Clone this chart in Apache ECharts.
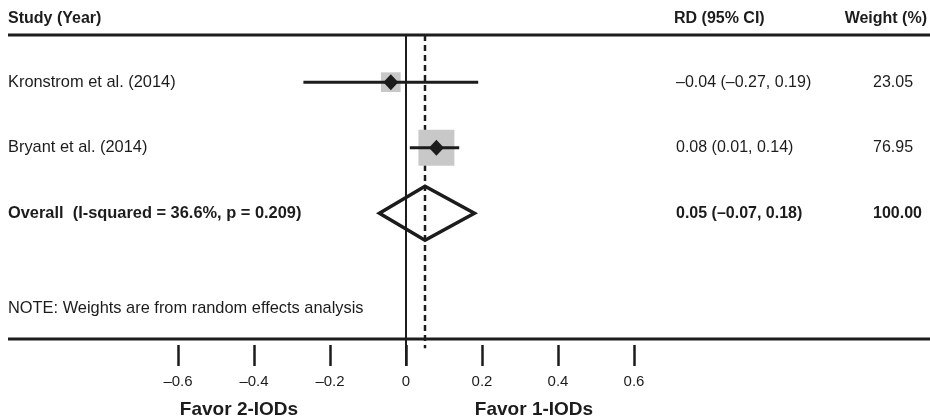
<!DOCTYPE html>
<html>
<head>
<meta charset="utf-8">
<script src="https://cdn.jsdelivr.net/npm/echarts@6/dist/echarts.min.js"></script>
<style>
  html, body { margin: 0; padding: 0; background: #fff; }
  #forest { width: 930px; height: 420px; }
</style>
</head>
<body>
<div id="forest"></div>
<script>
// data
const studyNames = ['Kronstrom et al. (2014)', 'Bryant et al. (2014)'];
const studyRD = [-0.04, 0.08];
const studyLower = [-0.27, 0.01];
const studyUpper = [0.19, 0.14];
const studyWeight = [23.05, 76.95];

const overallLabel = 'Overall  (I-squared = 36.6%, p = 0.209)';
const overallRD = [0.05];
const overallLower = [-0.07];
const overallUpper = [0.18];
const overallWeight = [100.00];

const xTicks = [-0.6, -0.4, -0.2, 0, 0.2, 0.4, 0.6];
const noteText = 'NOTE: Weights are from random effects analysis';
const favorLeft = 'Favor 2-IODs';
const favorRight = 'Favor 1-IODs';

const FONT = "'Liberation Sans', Arial, sans-serif";
const INK = '#1c1c1c';

function fmt(v) {
  return v.toFixed(2).replace('-', '\u2013');
}
function ciText(est, lo, hi) {
  return fmt(est) + ' (' + fmt(lo) + ', ' + fmt(hi) + ')';
}

function txt(text, x, y, opts) {
  opts = opts || {};
  const align = opts.align || 'left';
  return {
    type: 'text',
    silent: true,
    style: {
      text: text, x: x, y: y,
      font: (opts.bold ? 'bold ' : '') + (opts.size || 16) + 'px ' + FONT,
      fill: INK,
      align: align, textAlign: align,
      verticalAlign: 'middle', textVerticalAlign: 'middle'
    }
  };
}

// rows: 0,1 = studies, 2 = overall
const studyData = studyNames.map((n, i) => [studyRD[i], i, studyLower[i], studyUpper[i], studyWeight[i]]);
const overallData = [[overallRD[0], studyNames.length, overallLower[0], overallUpper[0], overallWeight[0]]];

var myChart = echarts.init(document.getElementById('forest'));

let option = {
  animation: false,
  backgroundColor: '#fff',
  grid: { left: 178, right: 296, top: 35, bottom: 54 },
  xAxis: {
    type: 'value',
    min: xTicks[0],
    max: xTicks[xTicks.length - 1],
    interval: 0.2,
    axisLine: { show: false, onZero: false },
    splitLine: { show: false },
    axisTick: { show: true, inside: true, length: 21, lineStyle: { color: INK, width: 2.5 } },
    axisLabel: {
      margin: 8,
      color: INK,
      fontFamily: FONT,
      fontSize: 15,
      formatter: function (v) {
        return String(+(+v).toFixed(1)).replace('-', '\u2013');
      }
    }
  },
  yAxis: {
    type: 'value',
    inverse: true,
    min: -0.72,
    max: 4.33,
    show: false
  },
  graphic: [
    { type: 'line', silent: true, shape: { x1: 8, y1: 35, x2: 930, y2: 35 }, style: { stroke: INK, lineWidth: 3 } },
    { type: 'line', silent: true, shape: { x1: 8, y1: 339, x2: 930, y2: 339 }, style: { stroke: INK, lineWidth: 3 } },
    txt('Study (Year)', 8, 19, { bold: true }),
    txt('RD (95% CI)', 674, 19, { bold: true }),
    txt('Weight (%)', 927, 19, { bold: true, align: 'right' }),
    txt(noteText, 8, 308, { size: 16.4 }),
    txt(favorLeft, 239, 410, { bold: true, size: 19, align: 'center' }),
    txt(favorRight, 534, 410, { bold: true, size: 19, align: 'center' })
  ],
  series: [
    {
      // reference lines: null effect and overall estimate
      type: 'custom',
      clip: false,
      silent: true,
      data: [[0, -0.72, 4.33, 0], [overallRD[0], -0.72, 4.06, 1]],
      renderItem: function (params, api) {
        const a = api.coord([api.value(0), api.value(1)]);
        const b = api.coord([api.value(0), api.value(2)]);
        const dashed = api.value(3) === 1;
        return {
          type: 'line',
          shape: { x1: a[0], y1: a[1], x2: b[0], y2: b[1] },
          style: { stroke: INK, lineWidth: dashed ? 2.5 : 2, lineDash: dashed ? [6, 4] : null }
        };
      }
    },
    {
      type: 'custom',
      clip: false,
      silent: true,
      data: studyData,
      renderItem: function (params, api) {
        const row = api.value(1);
        const est = api.coord([api.value(0), row]);
        const lo = api.coord([api.value(2), row]);
        const hi = api.coord([api.value(3), row]);
        const side = 4.1 * Math.sqrt(api.value(4));
        const d = 7.5;
        const i = params.dataIndex;
        return {
          type: 'group',
          children: [
            { type: 'rect', shape: { x: est[0] - side / 2, y: est[1] - side / 2, width: side, height: side }, style: { fill: '#c8c8c8' } },
            { type: 'line', shape: { x1: lo[0], y1: lo[1], x2: hi[0], y2: hi[1] }, style: { stroke: INK, lineWidth: 3 } },
            { type: 'polygon', shape: { points: [[est[0] - d, est[1]], [est[0], est[1] - d - 0.5], [est[0] + d, est[1]], [est[0], est[1] + d + 0.5]] }, style: { fill: INK } },
            txt(studyNames[i], 8, est[1], { size: 16.4 }),
            txt(ciText(api.value(0), api.value(2), api.value(3)), 676, est[1]),
            txt(api.value(4).toFixed(2), 873, est[1])
          ]
        };
      }
    },
    {
      type: 'custom',
      clip: false,
      silent: true,
      data: overallData,
      renderItem: function (params, api) {
        const row = api.value(1);
        const est = api.coord([api.value(0), row]);
        const lo = api.coord([api.value(2), row]);
        const hi = api.coord([api.value(3), row]);
        const h = 27;
        return {
          type: 'group',
          children: [
            { type: 'polygon', shape: { points: [[lo[0], lo[1]], [est[0], est[1] - h], [hi[0], hi[1]], [est[0], est[1] + h]] }, style: { fill: null, stroke: INK, lineWidth: 3.5, lineJoin: 'miter' } },
            txt(overallLabel, 8, est[1], { bold: true, size: 16.4 }),
            txt(ciText(api.value(0), api.value(2), api.value(3)), 676, est[1], { bold: true }),
            txt(api.value(4).toFixed(2), 873, est[1], { bold: true })
          ]
        };
      }
    }
  ]
};

myChart.setOption(option);
</script>
</body>
</html>
